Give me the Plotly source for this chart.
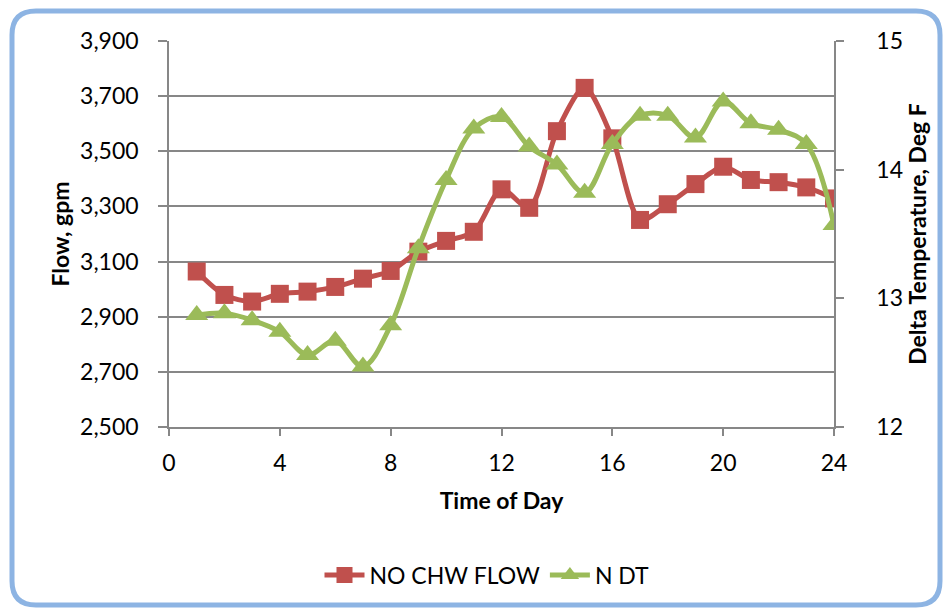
import plotly.graph_objects as go

# Hourly chilled-water data
hours = list(range(1, 25))
chw_flow = [3064, 2979, 2955, 2983, 2991, 3008, 3038, 3066, 3136, 3175, 3208, 3362,
            3295, 3573, 3730, 3547, 3251, 3308, 3381, 3444, 3396, 3388, 3369, 3329]
delta_t = [12.87, 12.885, 12.83, 12.74, 12.56, 12.67, 12.47, 12.79, 13.39, 13.92, 14.32, 14.41,
           14.18, 14.04, 13.82, 14.20, 14.42, 14.42, 14.25, 14.53, 14.36, 14.31, 14.20, 13.57]

flow_ticks = [2500, 2700, 2900, 3100, 3300, 3500, 3700, 3900]
dt_ticks = [12, 13, 14, 15]
hour_ticks = [0, 4, 8, 12, 16, 20, 24]

RED = "#C0504D"
GREEN = "#9BBB59"
GRID = "#878787"
FONT = "Lato"

W, H = 945, 609
L, R, T, B = 169, 111, 41, 182
PW, PH = W - L - R, H - T - B


def px2paper(x, y):
    return (x - L) / PW, (H - B - y) / PH


fig = go.Figure()
fig.add_trace(go.Scatter(
    x=hours, y=chw_flow, name="NO CHW FLOW", mode="lines+markers",
    line=dict(color=RED, width=5, shape="spline", smoothing=0.8),
    marker=dict(symbol="square", size=18, color=RED),
    yaxis="y",
))
fig.add_trace(go.Scatter(
    x=hours, y=delta_t, name="N DT", mode="lines+markers",
    line=dict(color=GREEN, width=5, shape="spline", smoothing=1.0),
    marker=dict(symbol="triangle-up", size=20, color=GREEN),
    yaxis="y2",
))

# Rounded chart-area border
x0, y0, x1, y1, rad = 12, 11, 940, 605, 24
pts = [
    ("M", [(x0 + rad, y0)]),
    ("L", [(x1 - rad, y0)]),
    ("Q", [(x1, y0), (x1, y0 + rad)]),
    ("L", [(x1, y1 - rad)]),
    ("Q", [(x1, y1), (x1 - rad, y1)]),
    ("L", [(x0 + rad, y1)]),
    ("Q", [(x0, y1), (x0, y1 - rad)]),
    ("L", [(x0, y0 + rad)]),
    ("Q", [(x0, y0), (x0 + rad, y0)]),
]
path = ""
for cmd, ps in pts:
    path += cmd + " ".join("%.5f,%.5f" % px2paper(px, py) for px, py in ps) + " "
path += "Z"

axis_font = dict(family=FONT, size=23, color="#000000")
title_font = dict(family=FONT, size=23, color="#000000", weight="bold")

fig.update_layout(
    template="none",
    width=W, height=H,
    margin=dict(l=L, r=R, t=T, b=B, autoexpand=False),
    paper_bgcolor="white", plot_bgcolor="white",
    font=axis_font,
    shapes=[dict(type="path", path=path, xref="paper", yref="paper",
                 line=dict(color="#8DB4E3", width=5), layer="below")],
    xaxis=dict(
        range=[0, 24], tickvals=hour_ticks, ticktext=[str(v) for v in hour_ticks],
        showgrid=False, zeroline=False, showline=True, linecolor=GRID, linewidth=1.5,
        ticks="outside", ticklen=7, tickcolor=GRID, tickwidth=1.5,
        tickfont=axis_font, ticklabelstandoff=8, automargin=False,
        title=dict(text="Time of Day", font=title_font, standoff=18),
    ),
    yaxis=dict(
        range=[2500, 3900], tickvals=flow_ticks, ticktext=[f"{v:,}" for v in flow_ticks],
        showgrid=True, gridcolor=GRID, gridwidth=1.5, zeroline=False,
        showline=True, linecolor=GRID, linewidth=1.5,
        ticks="outside", ticklen=9, tickcolor=GRID, tickwidth=1.5,
        tickfont=axis_font, ticklabelstandoff=15, automargin=False,
        title=dict(text="Flow, gpm", font=title_font, standoff=4),
    ),
    yaxis2=dict(
        range=[12, 15], tickvals=dt_ticks, ticktext=[str(v) for v in dt_ticks],
        overlaying="y", side="right", showgrid=False, zeroline=False,
        showline=True, linecolor=GRID, linewidth=1.5,
        ticks="outside", ticklen=8, tickcolor=GRID, tickwidth=1.5,
        tickfont=axis_font, ticklabelstandoff=28, automargin=False,
        title=dict(text="Delta Temperature, Deg F", font=title_font, standoff=0),
    ),
    legend=dict(
        orientation="h", x=px2paper(487, 0)[0], y=px2paper(0, 575)[1],
        xanchor="center", yanchor="middle", font=axis_font,
        bgcolor="rgba(0,0,0,0)", itemwidth=40, tracegroupgap=0,
    ),
    showlegend=True,
)

fig.write_html("out.html")
